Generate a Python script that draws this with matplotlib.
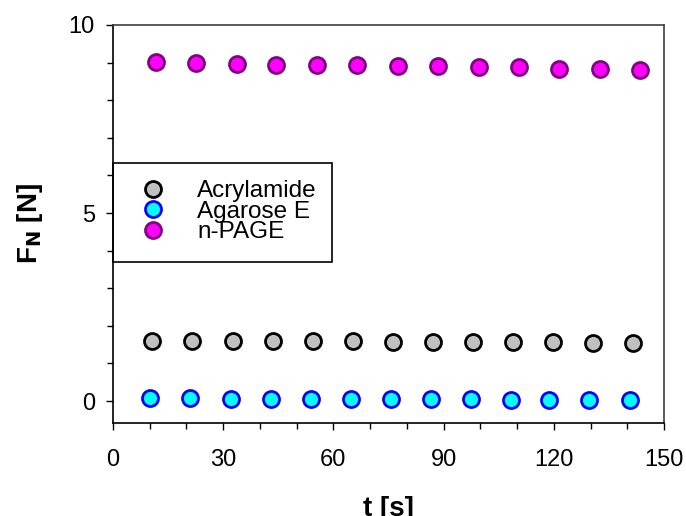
import matplotlib
matplotlib.use("Agg")
import matplotlib.pyplot as plt
from matplotlib.patches import Rectangle
from matplotlib.ticker import MultipleLocator

plt.rcParams["font.family"] = ["Liberation Sans", "DejaVu Sans"]

# ----------------------------------------------------
# Data
# ----------------------------------------------------

t_acryl = [10.6, 21.6, 32.7, 43.6, 54.5, 65.3, 76.1, 87.0, 97.9, 108.9, 119.8, 130.7, 141.6]
fn_acryl = [1.61, 1.61, 1.60, 1.60, 1.59, 1.59, 1.58, 1.57, 1.57, 1.56, 1.56, 1.55, 1.55]

t_agar = [10.1, 21.0, 32.1, 43.0, 53.9, 64.8, 75.7, 86.6, 97.5, 108.4, 118.8, 129.7, 140.6]
fn_agar = [0.07, 0.07, 0.06, 0.06, 0.06, 0.05, 0.05, 0.05, 0.05, 0.04, 0.04, 0.04, 0.03]

t_page = [11.7, 22.6, 33.7, 44.5, 55.5, 66.5, 77.5, 88.6, 99.5, 110.6, 121.5, 132.6, 143.5]
fn_page = [9.02, 8.99, 8.97, 8.94, 8.93, 8.93, 8.92, 8.90, 8.89, 8.87, 8.84, 8.82, 8.80]

series = [
    ("Acrylamide", t_acryl, fn_acryl, "#c0c0c0", "black"),
    ("Agarose E", t_agar, fn_agar, "#00ffff", "#0000ff"),
    ("n-PAGE", t_page, fn_page, "#ff00ff", "#800080"),
]

# ----------------------------------------------------
# Plot
# ----------------------------------------------------

fig = plt.figure(figsize=(6.86, 5.16), dpi=100)
ax = fig.add_axes([0.1647, 0.1812, 0.8033, 0.7704])

for label, t, fn, face, edge in series:
    ax.plot(t, fn, linestyle="none", marker="o", markersize=11.5,
            markerfacecolor=face, markeredgecolor=edge, markeredgewidth=2,
            label=label)

ax.set_xlim(0, 150)
ax.set_ylim(-0.57, 10)
ax.xaxis.set_major_locator(MultipleLocator(30))
ax.xaxis.set_minor_locator(MultipleLocator(10))
ax.yaxis.set_major_locator(MultipleLocator(5))
ax.yaxis.set_minor_locator(MultipleLocator(1))

ax.tick_params(which="both", direction="out", top=False, right=False,
               labelsize=17, width=1)
ax.tick_params(which="major", length=5)
ax.tick_params(which="minor", length=4)
ax.tick_params(axis="x", pad=14)
ax.tick_params(axis="y", pad=8)

for sp in ax.spines.values():
    sp.set_linewidth(1.2)
ax.spines["top"].set_color("#404040")
ax.spines["right"].set_color("#404040")

ax.set_xlabel("t [s]", fontsize=20, fontweight="bold", labelpad=18)
ax.set_ylabel(r"F$_\mathbf{N}$ [N]", fontsize=20, fontweight="bold", labelpad=17)

# legend frame drawn separately so it can be taller than its entries
ax.add_patch(Rectangle((0.0, 0.404), 0.3975, 0.25, transform=ax.transAxes,
                       fill=False, edgecolor="black", linewidth=1.2,
                       clip_on=False, zorder=5))

ax.legend(loc="center left", bbox_to_anchor=(0.038, 0.53), frameon=False,
          fontsize=17.5, labelspacing=-0.06, handletextpad=1.4,
          handlelength=0.8, borderaxespad=0)

fig.savefig("out.png", dpi=100)
